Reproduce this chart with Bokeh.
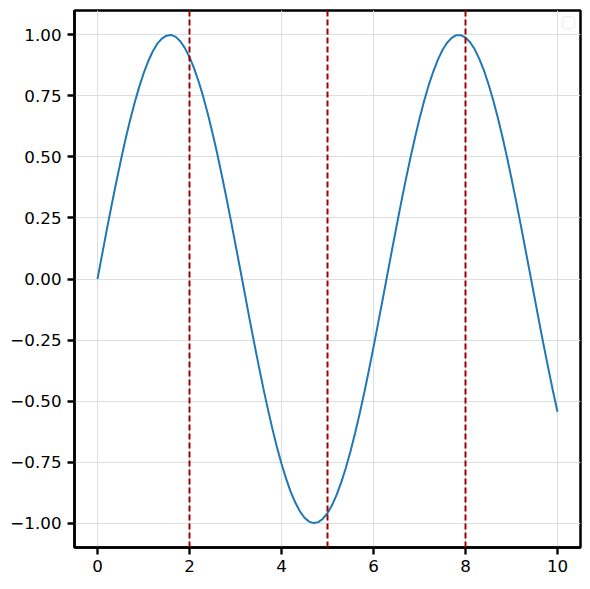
from bokeh.plotting import figure
from bokeh.models import FixedTicker, Span, CustomJSTickFormatter, BoxAnnotation, Range1d
from bokeh.embed import file_html
from bokeh.resources import INLINE

x_vals = [0.0, 0.1, 0.2, 0.3, 0.4, 0.5, 0.6, 0.7, 0.8, 0.9,
          1.0, 1.1, 1.2, 1.3, 1.4, 1.5, 1.6, 1.7, 1.8, 1.9,
          2.0, 2.1, 2.2, 2.3, 2.4, 2.5, 2.6, 2.7, 2.8, 2.9,
          3.0, 3.1, 3.2, 3.3, 3.4, 3.5, 3.6, 3.7, 3.8, 3.9,
          4.0, 4.1, 4.2, 4.3, 4.4, 4.5, 4.6, 4.7, 4.8, 4.9,
          5.0, 5.1, 5.2, 5.3, 5.4, 5.5, 5.6, 5.7, 5.8, 5.9,
          6.0, 6.1, 6.2, 6.3, 6.4, 6.5, 6.6, 6.7, 6.8, 6.9,
          7.0, 7.1, 7.2, 7.3, 7.4, 7.5, 7.6, 7.7, 7.8, 7.9,
          8.0, 8.1, 8.2, 8.3, 8.4, 8.5, 8.6, 8.7, 8.8, 8.9,
          9.0, 9.1, 9.2, 9.3, 9.4, 9.5, 9.6, 9.7, 9.8, 9.9, 10.0]
y_vals = [0.000, 0.100, 0.199, 0.296, 0.389, 0.479, 0.565, 0.644, 0.717, 0.783,
          0.841, 0.891, 0.932, 0.964, 0.985, 0.997, 1.000, 0.992, 0.974, 0.946,
          0.909, 0.863, 0.808, 0.746, 0.675, 0.598, 0.516, 0.427, 0.335, 0.239,
          0.141, 0.042, -0.058, -0.158, -0.256, -0.351, -0.443, -0.530, -0.612, -0.688,
          -0.757, -0.818, -0.872, -0.916, -0.952, -0.978, -0.994, -1.000, -0.996, -0.982,
          -0.959, -0.926, -0.883, -0.832, -0.773, -0.706, -0.631, -0.551, -0.465, -0.374,
          -0.279, -0.182, -0.083, 0.017, 0.117, 0.215, 0.312, 0.405, 0.494, 0.578,
          0.657, 0.729, 0.794, 0.850, 0.899, 0.938, 0.968, 0.988, 0.999, 0.999,
          0.989, 0.970, 0.941, 0.902, 0.855, 0.798, 0.734, 0.663, 0.585, 0.501,
          0.412, 0.319, 0.223, 0.124, 0.025, -0.075, -0.174, -0.272, -0.366, -0.458, -0.544]
vlines = [2, 5, 8]
x_ticks = [0, 2, 4, 6, 8, 10]
y_ticks = [-1.0, -0.75, -0.5, -0.25, 0.0, 0.25, 0.5, 0.75, 1.0]

p = figure(width=590, height=589, output_backend="svg", toolbar_location=None,
           x_range=Range1d(-0.5, 10.5), y_range=Range1d(-1.1, 1.1),
           min_border_left=74, min_border_right=10, min_border_top=10, min_border_bottom=42)
p.background_fill_color = "white"
p.border_fill_color = "white"
p.outline_line_color = "black"
p.outline_line_width = 2.5

p.line(x_vals, y_vals, line_color="#1f77b4", line_width=2)

for v in vlines:
    p.add_layout(Span(location=v, dimension="height", line_color="#a00000",
                      line_width=2, line_dash="6 3"))

p.xaxis.ticker = FixedTicker(ticks=x_ticks)
p.yaxis.ticker = FixedTicker(ticks=y_ticks)
p.yaxis.formatter = CustomJSTickFormatter(
    code="return (tick < 0 ? '\u2212' : '') + Math.abs(tick).toFixed(2);")
p.xaxis.formatter = CustomJSTickFormatter(
    code="return (tick < 0 ? '\u2212' : '') + Math.abs(tick).toFixed(0);")

for ax in (p.xaxis, p.yaxis):
    ax.axis_line_color = "black"
    ax.axis_line_width = 2.5
    ax.major_tick_line_color = "black"
    ax.major_tick_line_width = 2.3
    ax.major_tick_out = 7
    ax.major_tick_in = 0
    ax.minor_tick_line_color = None
    ax.major_label_text_font = "DejaVu Sans"
    ax.major_label_text_font_size = "16.7px"
    ax.major_label_text_color = "black"
p.xaxis.major_label_standoff = 5
p.yaxis.major_label_standoff = 6

p.grid.grid_line_color = "#dddddd"
p.grid.grid_line_width = 1

# empty legend frame (top right)
p.add_layout(BoxAnnotation(left=10.11, right=10.37, top=1.075, bottom=1.026,
                           fill_color="white", fill_alpha=0.8,
                           line_color="#c8c8c8", line_width=1.2, border_radius=3))

open("out.html", "w").write(file_html(p, INLINE))
